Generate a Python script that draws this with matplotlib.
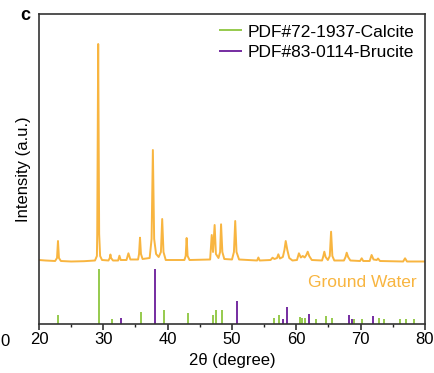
import matplotlib
matplotlib.use("Agg")
import matplotlib.pyplot as plt
from matplotlib.ticker import MultipleLocator

plt.rcParams['font.family'] = ['Liberation Sans', 'DejaVu Sans']

two_theta = [20.0, 21.0, 22.5, 22.8, 22.95, 23.1, 23.4, 25.0, 27.0, 28.7, 29.0, 29.05, 29.2, 29.35, 29.5, 29.8,
             30.8, 31.0, 31.1, 31.2, 31.5, 32.3, 32.5, 32.7, 33.6, 33.9, 34.2,
             35.4, 35.55, 35.7, 35.85, 36.1, 37.2, 37.5, 37.7, 37.9, 38.2, 38.6,
             38.95, 39.15, 39.35, 39.7, 42.6, 42.8, 42.95, 43.1, 43.4,
             46.6, 46.85, 47.05, 47.3, 47.5, 47.9, 48.15, 48.3, 48.5, 48.8,
             50.0, 50.3, 50.5, 50.7, 51.1, 53.9, 54.1, 54.3,
             56.0, 56.3, 56.6, 57.0, 57.2, 57.45, 57.9, 58.15, 58.35, 58.6, 58.9, 59.4,
             60.1, 60.4, 60.7, 61.0, 61.3, 61.55, 61.77, 62.0, 62.4,
             64.0, 64.2, 64.35, 64.55, 64.9, 65.2, 65.4, 65.6, 65.9,
             67.4, 67.65, 67.83, 68.05, 68.4, 69.9, 70.16, 70.4,
             71.4, 71.7, 72.0, 72.5, 72.7, 73.0, 76.6, 76.9, 77.2, 80.0]
intensity = [64, 63.5, 63, 66, 83, 66, 63, 62.5, 62.8, 63.5, 68, 90, 280, 90, 68, 64,
             63.5, 66, 69.5, 66, 63.5, 63.5, 68.3, 64, 64, 70.7, 64.5,
             64.5, 70, 86.3, 70, 65, 66, 85, 174, 85, 70, 67,
             72, 105, 72, 64, 64, 68, 86, 68, 64,
             64.5, 89, 72, 99, 70, 66, 72, 99.7, 72, 65,
             64.5, 72, 103, 72, 64.5, 63.5, 66.5, 63.5,
             64, 66.3, 65, 66, 69.7, 65.5, 67, 74, 83, 74, 66, 63.5,
             64, 70.7, 66.5, 68, 66.5, 69, 72.3, 68, 64,
             63.5, 68, 72.3, 67, 64, 68, 92.3, 68, 63.5,
             63.5, 67, 71.3, 67, 63.5, 63, 65.7, 63,
             63, 69, 64.5, 64, 65.5, 63, 62.5, 65.7, 62.5, 62.5]

# Reference patterns (stick positions and relative heights)
calcite_pos = [23.0, 29.38, 31.35, 35.9, 39.38, 43.1, 47.05, 47.46, 48.45, 56.53, 57.3,
               60.52, 60.94, 61.36, 63.0, 64.57, 65.5, 68.9, 70.16, 72.85, 73.58, 76.17, 77.05, 78.35]
calcite_int = [9.3, 55, 5, 12, 14, 11, 8.7, 14, 14, 6, 9.3,
               7, 6, 6, 5.3, 7.7, 6, 5, 5, 6, 5, 5, 5.3, 5]
brucite_pos = [32.8, 37.98, 50.78, 57.93, 58.6, 62.0, 68.19, 68.7, 71.96]
brucite_int = [6, 55, 23, 4.7, 17.3, 9.7, 9.3, 4.7, 8]

orange = '#F8B540'
green = '#8DC63F'
purple = '#6A1B9A'

fig = plt.figure(figsize=(4.35, 3.73), dpi=100)
ax = fig.add_axes([39/435, 1-324/373, (425-39)/435, (324-14)/373])

ax.plot(two_theta, intensity, color=orange, lw=1.4)
ax.vlines(calcite_pos, 0, calcite_int, color=green, lw=1.3, label='PDF#72-1937-Calcite')
ax.vlines(brucite_pos, 0, brucite_int, color=purple, lw=1.3, label='PDF#83-0114-Brucite')

ax.set_xlim(20, 80)
ax.set_ylim(0, 310)
ax.xaxis.set_major_locator(MultipleLocator(10))
ax.xaxis.set_minor_locator(MultipleLocator(5))
ax.set_yticks([])
ax.tick_params(axis='x', which='major', direction='out', length=4, width=1.1, labelsize=12, pad=2,
               colors='#222222', labelcolor='black')
ax.tick_params(axis='x', which='minor', direction='out', length=2.5, width=1.0, colors='#222222')
for s in ax.spines.values():
    s.set_linewidth(1.2)
    s.set_color('#333333')

ax.set_xlabel('2θ (degree)', fontsize=12, labelpad=4)
ax.set_ylabel('Intensity (a.u.)', fontsize=12, labelpad=6)

ax.text(0.837, 0.133, 'Ground Water', transform=ax.transAxes, color=orange, fontsize=12.5,
        ha='center', va='center')

leg = ax.legend(loc='upper right', frameon=False, fontsize=12.5, handlelength=1.3,
                handletextpad=0.35, labelspacing=0.32, borderaxespad=0.2,
                bbox_to_anchor=(1.0, 1.0))

fig.text(20/435, 1-15/373, 'c', fontsize=13, fontweight='bold', ha='left', va='center')
fig.text(5/435, 1-341/373, '0', fontsize=12, ha='center', va='center')

fig.savefig('out.png', dpi=100)
